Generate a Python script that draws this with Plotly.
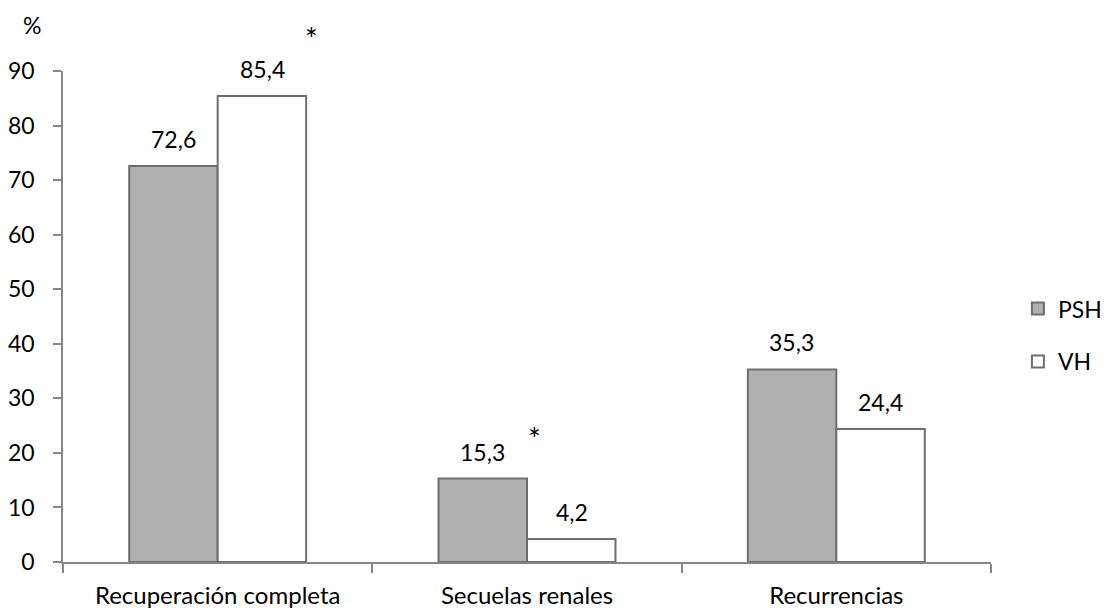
import plotly.graph_objects as go

categories = ["Recuperación completa", "Secuelas renales", "Recurrencias"]
psh = [72.6, 15.3, 35.3]
vh = [85.4, 4.2, 24.4]
psh_labels = ["72,6", "15,3", "35,3"]
vh_labels = ["85,4", "4,2", "24,4"]
y_ticks = [0, 10, 20, 30, 40, 50, 60, 70, 80, 90]

FONT = "Lato, 'Open Sans', sans-serif"
FS = 23

fig = go.Figure()
fig.add_trace(go.Bar(
    x=categories, y=psh, name="PSH", legendgroup="a",
    marker=dict(color="#b0b0b0", line=dict(color="#6e6e6e", width=2)),
))
fig.add_trace(go.Bar(
    x=categories, y=vh, name="VH", legendgroup="b",
    marker=dict(color="#ffffff", line=dict(color="#6e6e6e", width=2)),
))

annotations = []
for c, v, t in zip(categories, psh, psh_labels):
    annotations.append(dict(x=c, y=v, text=t, showarrow=False, xshift=-44.5,
                            yshift=27, font=dict(size=FS, color="#000", family=FONT)))
for c, v, t in zip(categories, vh, vh_labels):
    annotations.append(dict(x=c, y=v, text=t, showarrow=False, xshift=44.5,
                            yshift=27, font=dict(size=FS, color="#000", family=FONT)))
# significance asterisks
annotations.append(dict(x=categories[0], y=vh[0], text="*", showarrow=False,
                        xshift=94, yshift=58, font=dict(size=30, color="#000", family=FONT)))
annotations.append(dict(x=categories[1], y=psh[1], text="*", showarrow=False,
                        xshift=7, yshift=41, font=dict(size=30, color="#000", family=FONT)))
# axis unit
annotations.append(dict(xref="paper", yref="paper", x=-0.033, y=1.094, text="%",
                        showarrow=False, xanchor="center", yanchor="middle",
                        font=dict(size=FS, color="#000", family=FONT)))

# the page body adds an 8px margin, so the figure is 8px smaller and shifted
fig.update_layout(
    width=1101, height=603,
    margin=dict(l=55, r=118, t=63, b=49, autoexpand=False),
    paper_bgcolor="white", plot_bgcolor="white",
    font=dict(family=FONT, size=FS, color="#000"),
    bargap=0.428, bargroupgap=0,
    barmode="group",
    showlegend=True,
    legend=dict(x=1.029, y=0.462, xanchor="left", yanchor="middle",
                tracegroupgap=20, font=dict(size=FS, family=FONT),
                itemwidth=30),
    annotations=annotations,
    xaxis=dict(type="category", showline=True, linecolor="#868686", linewidth=1.5,
               ticks="outside", tickson="boundaries", ticklen=9, tickcolor="#868686",
               tickwidth=1.5, showgrid=False, tickfont=dict(size=24, family=FONT),
               ticklabelstandoff=11),
    yaxis=dict(range=[0, 90], tickvals=y_ticks, showline=True, linecolor="#868686",
               linewidth=1.5, ticks="outside", ticklen=8, tickcolor="#868686",
               tickwidth=1.5, showgrid=False, zeroline=False,
               tickfont=dict(size=FS, family=FONT), ticklabelstandoff=14),
)

fig.write_html("out.html")
